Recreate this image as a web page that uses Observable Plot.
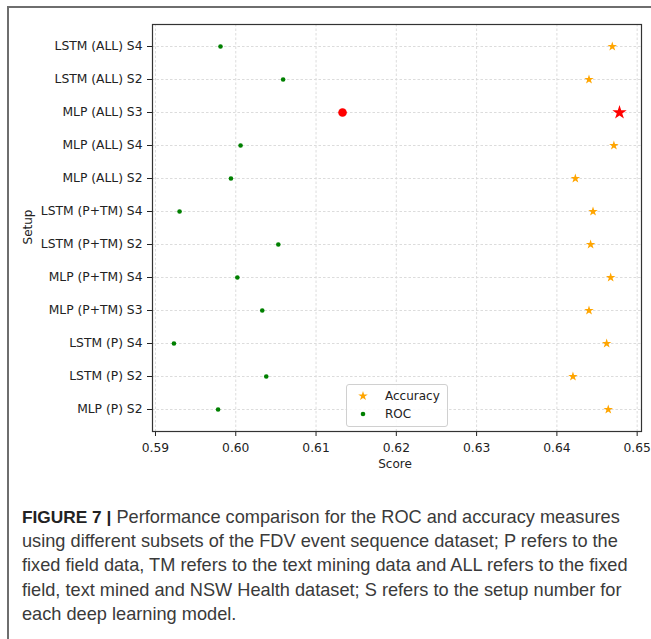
<!DOCTYPE html>
<html><head><meta charset="utf-8">
<script src="https://cdn.jsdelivr.net/npm/d3@7"></script>
<script src="https://cdn.jsdelivr.net/npm/@observablehq/plot@0.6"></script>
<style>
body{margin:0;background:#fff;}
#page{position:relative;width:651px;height:639px;overflow:hidden;background:#fff;}
#frame{position:absolute;left:7px;top:6px;width:660px;height:660px;border-top:2px solid #6e6e6e;border-left:2px solid #6e6e6e;}
#chart{position:absolute;left:0;top:0;}
.axlabel{position:absolute;font-family:"DejaVu Sans",sans-serif;font-size:12px;color:#222;white-space:nowrap;line-height:14px;}
#xlabel{left:395px;top:464px;transform:translate(-50%,-50%);}
#ylabel{left:28px;top:227px;transform:translate(-50%,-50%) rotate(-90deg);}
#legend{position:absolute;left:346px;top:384px;width:100px;height:41px;border:1px solid #d0d0d0;border-radius:3px;background:rgba(255,255,255,0.85);font-family:"DejaVu Sans",sans-serif;font-size:12px;color:#222;}
#legend .item{position:absolute;left:0;height:18px;line-height:18px;}
#legend svg{position:absolute;left:8px;top:1px;}
#legend span{position:absolute;left:38px;white-space:nowrap;}
#caption{position:absolute;left:22px;top:505px;font-family:"Liberation Sans",Arial,sans-serif;font-size:18.2px;line-height:24.2px;color:#3a3a3a;white-space:nowrap;}
#caption b{font-size:17.3px;color:#222;}
</style></head>
<body>
<div id="page">
<div id="frame"></div>
<div id="chart"></div>
<div id="xlabel" class="axlabel">Score</div>
<div id="ylabel" class="axlabel">Setup</div>
<div id="legend"></div>
<div id="caption"><b>FIGURE 7 |</b> Performance comparison for the ROC and accuracy measures<br>using different subsets of the FDV event sequence dataset; P refers to the<br>fixed field data, TM refers to the text mining data and ALL refers to the fixed<br>field, text mined and NSW Health dataset; S refers to the setup number for<br>each deep learning model.</div>
</div>
<script>
const setups = ["LSTM (ALL) S4","LSTM (ALL) S2","MLP (ALL) S3","MLP (ALL) S4","MLP (ALL) S2","LSTM (P+TM) S4","LSTM (P+TM) S2","MLP (P+TM) S4","MLP (P+TM) S3","LSTM (P) S4","LSTM (P) S2","MLP (P) S2"];
const rocValues = [0.5981,0.6059,0.6133,0.6006,0.5994,0.5930,0.6053,0.6002,0.6033,0.5923,0.6038,0.5978];
const accuracyValues = [0.6469,0.6440,0.6478,0.6471,0.6423,0.6445,0.6442,0.6467,0.6440,0.6462,0.6420,0.6464];
const bestSetup = "MLP (ALL) S3";
const xTicks = [0.59,0.60,0.61,0.62,0.63,0.64,0.65];
const seriesNames = ["Accuracy","ROC"];

const rows = setups.map((s,i)=>({setup:s, roc:rocValues[i], accuracy:accuracyValues[i]}));
const normal = rows.filter(d=>d.setup!==bestSetup);
const best = rows.filter(d=>d.setup===bestSetup);

const font = "'DejaVu Sans', sans-serif";
const chart = Plot.plot({
  width:651, height:480,
  marginLeft:152, marginTop:24, marginRight:10, marginBottom:49,
  style:{fontFamily:font, fontSize:"12.3px", color:"#222", background:"transparent"},
  x:{domain:[0.58963,0.65054]},
  y:{type:"point", domain:setups, padding:0.5},
  marks:[
    Plot.gridX(xTicks, {stroke:"#d8d8d8", strokeOpacity:0.9, strokeDasharray:"2.5,2"}),
    Plot.gridY(setups, {stroke:"#d8d8d8", strokeOpacity:0.9, strokeDasharray:"2.5,2"}),
    Plot.axisX(xTicks, {tickSize:5, tickPadding:7, tickFormat:".2f", label:null, fontSize:12.3}),
    Plot.axisY(setups, {tickSize:5, tickPadding:5, label:null, fontSize:12.3}),
    Plot.dot(normal, {x:"accuracy", y:"setup", symbol:"star", fill:"orange", r:3.0}),
    Plot.dot(normal, {x:"roc", y:"setup", fill:"green", r:2.3}),
    Plot.dot(best, {x:"accuracy", y:"setup", symbol:"star", fill:"red", r:4.5}),
    Plot.dot(best, {x:"roc", y:"setup", fill:"red", r:4.3}),
    Plot.frame({stroke:"#333", strokeWidth:1.2})
  ]
});
document.getElementById("chart").appendChild(chart);

// legend
const lg = document.getElementById("legend");
const starPath = d3.symbol(d3.symbolStar, Math.PI*3.0*3.0)();
const dotPath = d3.symbol(d3.symbolCircle, Math.PI*2.3*2.3)();
[[seriesNames[0], starPath, "orange", 2],[seriesNames[1], dotPath, "green", 20]].forEach(([name,path,col,top])=>{
  const it = document.createElement("div");
  it.className="item"; it.style.top=top+"px"; it.style.width="100px";
  it.innerHTML = `<svg width="18" height="16"><path d="${path}" transform="translate(8,8)" fill="${col}"/></svg><span>${name}</span>`;
  lg.appendChild(it);
});
</script>
</body></html>
